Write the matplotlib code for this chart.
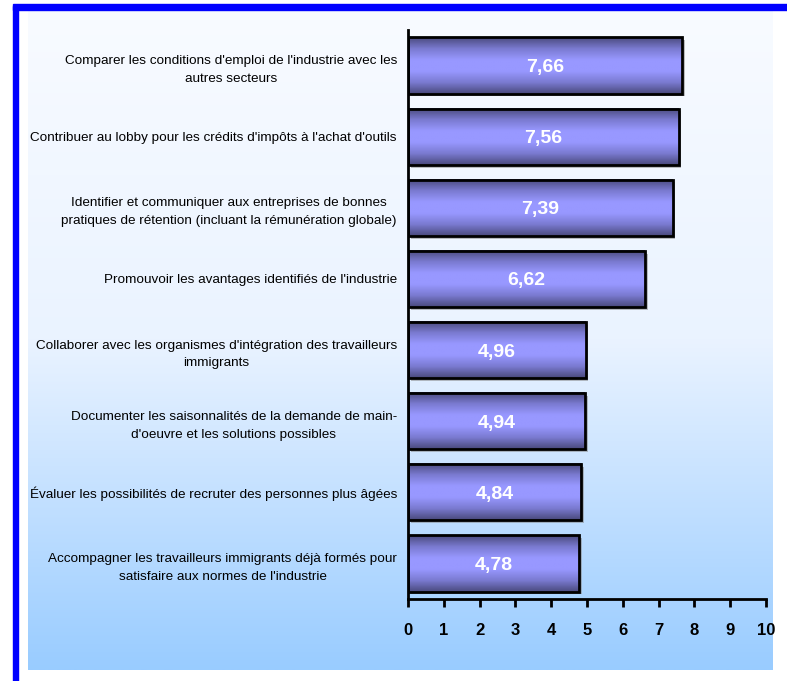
import numpy as np
import matplotlib
matplotlib.use("Agg")
import matplotlib.pyplot as plt
from matplotlib.colors import LinearSegmentedColormap
from matplotlib.patches import Rectangle
import matplotlib.patheffects as pe

plt.rcParams['font.family'] = ['Liberation Sans', 'DejaVu Sans']

categories = [
    "Comparer les conditions d'emploi de l'industrie avec les\nautres secteurs",
    "Contribuer au lobby pour les crédits d'impôts à l'achat d'outils",
    "Identifier et communiquer aux entreprises de bonnes\npratiques de rétention (incluant la rémunération globale)",
    "Promouvoir les avantages identifiés de l'industrie",
    "Collaborer avec les organismes d'intégration des travailleurs\nimmigrants",
    "Documenter les saisonnalités de la demande de main-\nd'oeuvre et les solutions possibles",
    "Évaluer les possibilités de recruter des personnes plus âgées",
    "Accompagner les travailleurs immigrants déjà formés pour\nsatisfaire aux normes de l'industrie",
]
values = [7.66, 7.56, 7.39, 6.62, 4.96, 4.94, 4.84, 4.78]
xticks = list(range(0, 11))

fig = plt.figure(figsize=(7.87, 6.81), dpi=100)
fig.patch.set_facecolor('white')

# background gradient panel
bg = fig.add_axes([28/787, 11/681, 745/787, 660/681], zorder=0)
grad = np.linspace(0, 1, 256).reshape(-1, 1)
bg_cmap = LinearSegmentedColormap.from_list('bg', ['#f8fbff', '#eaf3ff', '#99ccff'])
bg.imshow(grad, aspect='auto', cmap=bg_cmap, extent=[0, 1, 0, 1], origin='upper')
bg.set_axis_off()

# blue frame (top and left)
fig.patches.append(Rectangle((13/787, 0), 5/787, 675/681, transform=fig.transFigure,
                             color='#0000ff', zorder=5))
fig.patches.append(Rectangle((13/787, 671/681), 774/787, 6/681, transform=fig.transFigure,
                             color='#0000ff', zorder=5))

ax = fig.add_axes([408/787, 82/681, 358/787, 569/681], zorder=2)
ax.patch.set_alpha(0)

y = np.arange(len(values))
bars = ax.barh(y, values, height=0.79, facecolor='none', edgecolor='black',
               linewidth=2, zorder=3)

bar_cmap = LinearSegmentedColormap.from_list('bar', ['#4a4a7e', '#7a7ad0', '#9898ff',
                                                     '#9898ff', '#7a7ad0', '#4a4a7e'])
bar_grad = np.linspace(0, 1, 100).reshape(-1, 1)
for b, v in zip(bars, values):
    x0, y0, w, h = b.get_x(), b.get_y(), b.get_width(), b.get_height()
    ax.add_patch(Rectangle((x0, y0), w, h, facecolor='none', edgecolor='none', zorder=1,
                           path_effects=[pe.SimplePatchShadow(offset=(2, -2), shadow_rgbFace='#808080', alpha=0.5)]))
    ax.imshow(bar_grad, aspect='auto', cmap=bar_cmap, extent=[x0, x0 + w, y0, y0 + h],
              origin='lower', zorder=2, interpolation='bilinear')
    ax.text(v / 2, b.get_y() + h / 2, f"{v:.2f}".replace('.', ','), color='white',
            fontsize=14, fontweight='bold', ha='center', va='center_baseline', zorder=4)

ax.set_xlim(0, 10)
ax.set_ylim(len(values) - 0.5, -0.5)
ax.set_xticks(xticks)
ax.set_xticklabels([str(t) for t in xticks], fontsize=12, fontweight='bold')
ax.tick_params(axis='x', length=6, width=2, pad=11)
ax.set_yticks(y)
ax.set_yticklabels(categories, fontsize=9.7, multialignment='center', linespacing=1.65)
ax.tick_params(axis='y', length=0, pad=8)
for s in ['top', 'right']:
    ax.spines[s].set_visible(False)
ax.spines['left'].set_linewidth(2)
ax.spines['bottom'].set_linewidth(2)
ax.spines['left'].set_zorder(5)

fig.savefig('out.png', dpi=100)
